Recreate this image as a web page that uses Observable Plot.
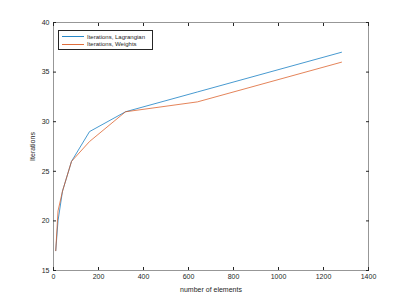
<!DOCTYPE html>
<html><head><meta charset="utf-8">
<script src="https://cdn.jsdelivr.net/npm/d3@7"></script>
<script src="https://cdn.jsdelivr.net/npm/@observablehq/plot@0.6"></script>
<style>
body{margin:0;background:#fff;font-family:"Liberation Sans",Arial,sans-serif;}
#wrap{position:relative;width:407px;height:305px;}
#legend{position:absolute;left:58px;top:30px;width:95px;height:20px;border:0.6px solid #262626;background:#fff;font-size:6px;color:#262626;box-sizing:border-box;padding-top:2px;}
#legend .row{display:flex;align-items:center;height:7.5px;white-space:nowrap;}
#legend .sw{display:inline-block;width:22px;height:0;border-top:1px solid;margin-left:3px;margin-right:3px;opacity:0.85;}
</style></head><body>
<div id="wrap"></div>
<script>
const elements = [10, 20, 40, 80, 160, 320, 640, 1280];
const lagrangian = [17, 20, 23, 26, 29, 31, 33, 37];
const weights = [17, 21, 23, 26, 28, 31, 32, 36];
const seriesNames = ["Iterations, Lagrangian", "Iterations, Weights"];
const seriesColors = ["#0072BD", "#D95319"];
const xTicks = [0, 200, 400, 600, 800, 1000, 1200, 1400];
const yTicks = [15, 20, 25, 30, 35, 40];

const rows = [];
elements.forEach((e, i) => {
  rows.push({x: e, y: lagrangian[i], s: seriesNames[0]});
  rows.push({x: e, y: weights[i], s: seriesNames[1]});
});

const axisColor = "#262626";
const fmt = d3.format("d");
const chart = Plot.plot({
  width: 407, height: 305,
  marginLeft: 53, marginRight: 39, marginTop: 22, marginBottom: 35,
  style: {fontFamily: "Liberation Sans, Arial, sans-serif", fontSize: "7px", color: axisColor, background: "#fff"},
  x: {domain: [0, 1400], ticks: xTicks},
  y: {domain: [15, 40], ticks: yTicks},
  color: {domain: seriesNames, range: seriesColors},
  marks: [
    Plot.frame({stroke: axisColor, strokeWidth: 0.6, strokeOpacity: 0.8}),
    Plot.axisX(xTicks, {anchor: "bottom", tickSize: -3, tickPadding: 7, tickFormat: fmt, label: "number of elements", labelAnchor: "center", labelOffset: 21, labelArrow: "none", stroke: axisColor, fontSize: 7}),
    Plot.axisX(xTicks, {anchor: "top", tickSize: -3, tickFormat: () => "", label: null, stroke: axisColor}),
    Plot.axisY(yTicks, {anchor: "left", tickSize: -3, tickPadding: 7, tickFormat: fmt, label: "Iterations", labelAnchor: "center", labelOffset: 23, labelArrow: "none", stroke: axisColor, fontSize: 7}),
    Plot.axisY(yTicks, {anchor: "right", tickSize: -3, tickFormat: () => "", label: null, stroke: axisColor}),
    Plot.line(rows, {x: "x", y: "y", z: "s", stroke: "s", strokeWidth: 0.8, strokeOpacity: 0.9})
  ]
});
const wrap = document.getElementById("wrap");
wrap.appendChild(chart);
const leg = document.createElement("div");
leg.id = "legend";
seriesNames.forEach((n, i) => {
  const r = document.createElement("div");
  r.className = "row";
  const sw = document.createElement("span");
  sw.className = "sw";
  sw.style.borderTopColor = seriesColors[i];
  const t = document.createElement("span");
  t.textContent = n;
  r.appendChild(sw); r.appendChild(t);
  leg.appendChild(r);
});
wrap.appendChild(leg);
</script>
</body></html>
